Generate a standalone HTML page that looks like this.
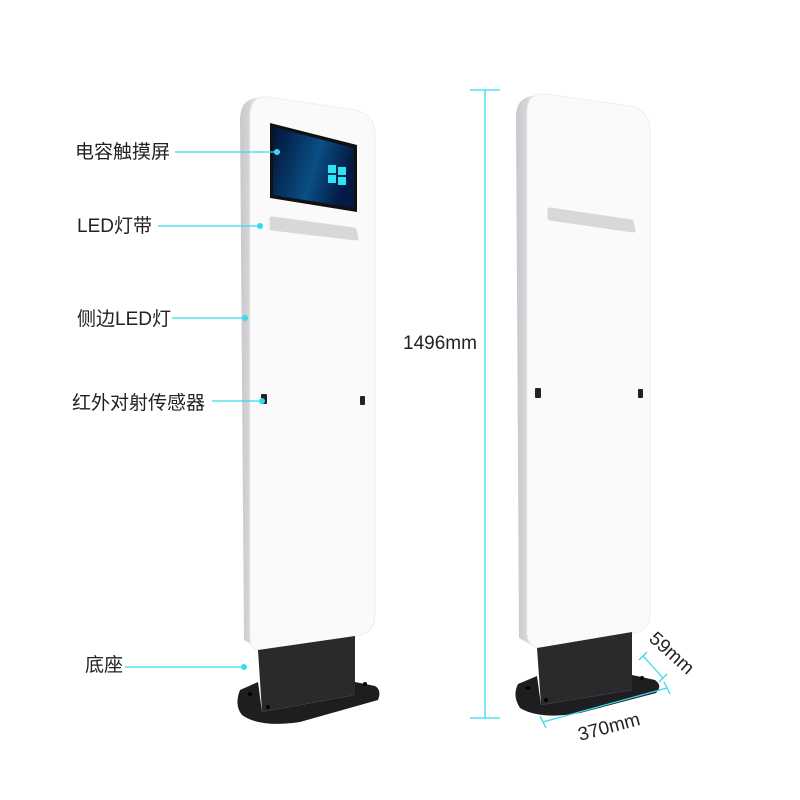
<!DOCTYPE html>
<html><head><meta charset="utf-8"><style>
html,body{margin:0;padding:0;background:#fff;}
svg{display:block}
text{font-family:"Liberation Sans","Noto Sans CJK SC",sans-serif;fill:#222;font-size:19px}
</style></head><body>
<svg width="800" height="800" viewBox="0 0 800 800">
<defs>
<linearGradient id="side" x1="0" x2="1"><stop offset="0" stop-color="#c8c8cc"/><stop offset="1" stop-color="#e6e6e9"/></linearGradient>
<linearGradient id="scr" x1="0" x2="1" y1="0" y2="0.3"><stop offset="0" stop-color="#021238"/><stop offset="0.6" stop-color="#0a4f84"/><stop offset="1" stop-color="#031a45"/></linearGradient>
</defs>
<!-- LEFT UNIT -->
<path d="M240 118 Q241 100 256 98 L262 98 L262 650 L244 640 Z" fill="url(#side)"/>
<path d="M268 97 L355 110 Q375 114 375 135 L375 615 Q375 634 355 636 L270 652 Q250 655 250 635 L250 117 Q250 95 268 97 Z" fill="#fafafa" stroke="#eee"/>
<polygon points="270,123 357,145 357,212 270,198" fill="#111"/>
<polygon points="273,127 354,148 354,208 273,195" fill="url(#scr)"/>
<g fill="#2de4f5"><rect x="328" y="165" width="8" height="8"/><rect x="338" y="167" width="8" height="8"/><rect x="328" y="175" width="8" height="8"/><rect x="338" y="177" width="8" height="8"/></g>
<polygon points="272,219 354,230 356,238 272,228" fill="#d8d8da" stroke="#d8d8da" stroke-width="5" stroke-linejoin="round"/>
<rect x="261" y="394" width="6" height="10" rx="1" fill="#222"/>
<rect x="360" y="396" width="5" height="9" rx="1" fill="#222"/>
<path d="M258 650 L355 636 L355 695 L262 712 Z" fill="#2a2a2c"/>
<path d="M240 690 L258 682 L262 712 L355 695 L355 682 L375 686 Q382 690 378 700 L300 722 Q260 728 242 715 Q234 705 240 690 Z" fill="#1e1e20"/>
<circle cx="250" cy="694" r="2" fill="#000"/><circle cx="365" cy="684" r="2" fill="#000"/><circle cx="268" cy="707" r="2" fill="#000"/>
<!-- RIGHT UNIT -->
<path d="M516 115 Q517 98 532 96 L537 96 L537 648 L519 638 Z" fill="url(#side)"/>
<path d="M545 94 L630 106 Q650 110 650 132 L650 612 Q650 632 630 634 L545 648 Q527 650 527 630 L527 114 Q527 92 545 94 Z" fill="#fafafa" stroke="#eee"/>
<polygon points="550,210 631,222 633,230 550,218" fill="#d8d8da" stroke="#d8d8da" stroke-width="5" stroke-linejoin="round"/>
<rect x="535" y="388" width="6" height="10" rx="1" fill="#222"/>
<rect x="638" y="389" width="5" height="9" rx="1" fill="#222"/>
<path d="M537 648 L632 632 L632 690 L541 705 Z" fill="#2a2a2c"/>
<path d="M518 684 L537 676 L541 705 L632 690 L632 675 L655 680 Q663 686 656 693 L580 713 Q540 720 520 708 Q512 696 518 684 Z" fill="#1e1e20"/>
<circle cx="528" cy="688" r="2" fill="#000"/><circle cx="642" cy="678" r="2" fill="#000"/><circle cx="546" cy="700" r="2" fill="#000"/>
<!-- dimensions -->
<g stroke="#35dcee" stroke-width="1.3" fill="none">
<line x1="485" y1="90" x2="485" y2="718"/><line x1="470" y1="90" x2="500" y2="90"/><line x1="470" y1="718" x2="500" y2="718"/>
<line x1="543" y1="722" x2="667" y2="688"/><line x1="540" y1="716" x2="546" y2="728"/><line x1="664" y1="682" x2="670" y2="694"/>
<line x1="643" y1="656" x2="663" y2="678"/><line x1="639" y1="660" x2="647" y2="652"/><line x1="659" y1="682" x2="667" y2="674"/>
<line x1="175" y1="152" x2="277" y2="152"/><line x1="158" y1="226" x2="260" y2="226"/><line x1="172" y1="318" x2="245" y2="318"/><line x1="212" y1="401" x2="262" y2="401"/><line x1="125" y1="667" x2="244" y2="667"/>
</g>
<g fill="#35dcee"><circle cx="277" cy="152" r="3"/><circle cx="260" cy="226" r="3"/><circle cx="245" cy="318" r="3"/><circle cx="262" cy="401" r="3"/><circle cx="244" cy="667" r="3"/></g>
<text x="403" y="349">1496mm</text>
<text x="0" y="0" transform="translate(580,741) rotate(-15)">370mm</text>
<text x="0" y="0" transform="translate(648,640) rotate(42)">59mm</text>
<text x="75" y="158">电容触摸屏</text>
<text x="77" y="232">LED灯带</text>
<text x="77" y="325">侧边LED灯</text>
<text x="72" y="409">红外对射传感器</text>
<text x="85" y="671">底座</text>
</svg>
</body></html>
